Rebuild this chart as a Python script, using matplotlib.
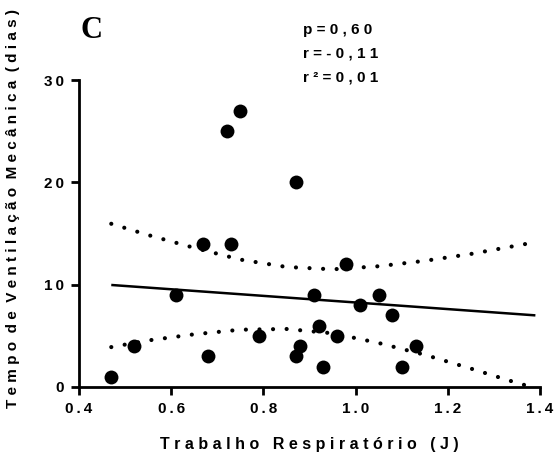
import numpy as np
import matplotlib
matplotlib.use("Agg")
import matplotlib.pyplot as plt

# Data
trabalho = [0.47, 0.52, 0.61, 0.67, 0.68, 0.73, 0.72, 0.75, 0.79, 0.87, 0.87,
            0.88, 0.91, 0.92, 0.93, 0.96, 0.98, 1.01, 1.05, 1.08, 1.10, 1.13]
dias = [1, 4, 9, 14, 3, 14, 25, 27, 5, 20, 3,
        4, 9, 6, 2, 5, 12, 8, 9, 7, 2, 4]

# Regression line and 95% confidence band
fit_x = [0.47, 1.39]
fit_y = [9.97, 7.0]
band_x = [0.47, 0.55, 0.65, 0.75, 0.85, 0.95, 1.05, 1.15, 1.25, 1.35, 1.39]
band_upper = [15.95, 14.85, 13.6, 12.45, 11.73, 11.5, 11.8, 12.33, 13.0, 13.82, 14.15]
band_lower = [3.9, 4.55, 5.15, 5.6, 5.67, 5.25, 4.3, 3.15, 1.8, 0.4, -0.1]

x_ticks = [0.4, 0.6, 0.8, 1.0, 1.2, 1.4]
x_tick_labels = ["0.4", "0.6", "0.8", "1.0", "1.2", "1.4"]
y_ticks = [0, 10, 20, 30]
y_tick_labels = ["0", "10", "20", "30"]
stats_lines = ["p=0,60", "r=-0,11", "r²=0,01"]
x_title = "Trabalho Respiratório (J)"
y_title = "Tempo de Ventilação Mecânica (dias)"

fam = ["Liberation Sans", "DejaVu Sans"]


def thin(s):
    return "\u2009".join(list(s))


def wide(s):
    return "   ".join(" ".join(list(w)) for w in s.split(" "))


fig = plt.figure(figsize=(5.57, 4.63), dpi=100)
ax = fig.add_axes([79 / 557, 1 - 387 / 463, (540 - 79) / 557, (387 - 80) / 463])

ax.plot(fit_x, fit_y, color="black", lw=1.8, solid_capstyle="butt")
for band in (band_upper, band_lower):
    ax.plot(band_x, band, color="black", lw=3.0, linestyle=(0, (0.01, 3.25)),
            dash_capstyle="round")
ax.scatter(trabalho, dias, s=100, color="black", zorder=3, clip_on=False,
           linewidths=0)

ax.set_xlim(0.4, 1.4)
ax.set_ylim(0, 30)
ax.set_xticks(x_ticks)
ax.set_xticklabels([thin(t) for t in x_tick_labels], family=fam,
                   fontweight="bold", fontsize=11)
ax.set_yticks(y_ticks)
ax.set_yticklabels([thin(t) for t in y_tick_labels], family=fam,
                   fontweight="bold", fontsize=11)
for sp in ("top", "right"):
    ax.spines[sp].set_visible(False)
for sp in ("left", "bottom"):
    ax.spines[sp].set_linewidth(2.0)
ax.tick_params(direction="out", length=6, width=2.0, pad=5)

ax.set_xlabel(wide(x_title), family=fam, fontweight="bold", fontsize=11.5,
              labelpad=15)
fig.text(13 / 557, 1 - 208 / 463, wide(y_title).replace("   ", "  "), rotation=90,
         ha="center", va="center", family=fam, fontweight="bold", fontsize=11)

fig.text(80 / 557, 1 - 38 / 463, "C", family=["Liberation Serif", "DejaVu Serif"],
         fontweight="bold", fontsize=22, ha="left", va="baseline")

for i, line in enumerate(stats_lines):
    fig.text(303 / 557, 1 - (34 + 24 * i) / 463, " ".join(list(line)), family=fam,
             fontweight="bold", fontsize=11, ha="left", va="baseline")

fig.savefig("out.png", dpi=100)
